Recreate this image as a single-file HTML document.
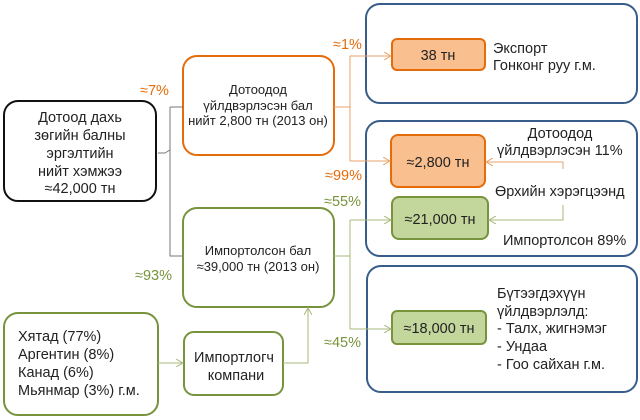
<!DOCTYPE html>
<html><head><meta charset="utf-8"><style>
html,body{margin:0;padding:0;background:#fff}
svg{display:block}
text{font-family:"Liberation Sans","DejaVu Sans",sans-serif;font-size:14.5px;fill:#222}
</style></head><body>
<svg width="640" height="420" viewBox="0 0 640 420" xmlns="http://www.w3.org/2000/svg">
<defs>
<marker id="ao" markerWidth="8" markerHeight="8" refX="7" refY="4" orient="auto" markerUnits="userSpaceOnUse"><path d="M0,0 L7,4 L0,8" fill="none" stroke="#e9a36a" stroke-width="1"/></marker>
<marker id="ag" markerWidth="8" markerHeight="8" refX="7" refY="4" orient="auto" markerUnits="userSpaceOnUse"><path d="M0,0 L7,4 L0,8" fill="none" stroke="#a9b97e" stroke-width="1"/></marker>
</defs>
<rect x="366" y="4" width="271" height="99" rx="14" fill="#fff" stroke="#385d8a" stroke-width="2"/>
<rect x="366" y="121" width="271" height="135" rx="14" fill="#fff" stroke="#385d8a" stroke-width="2"/>
<rect x="367" y="266" width="270" height="126" rx="14" fill="#fff" stroke="#385d8a" stroke-width="2"/>
<rect x="4" y="101" width="152" height="100" rx="14" fill="#fff" stroke="#111" stroke-width="2"/>
<rect x="183" y="56" width="151" height="99" rx="14" fill="#fff" stroke="#e46c0a" stroke-width="2"/>
<rect x="183" y="208" width="151" height="99" rx="14" fill="#fff" stroke="#77933c" stroke-width="2"/>
<rect x="4" y="313" width="154" height="102" rx="14" fill="#fff" stroke="#77933c" stroke-width="2"/>
<rect x="184" y="332" width="99" height="63" rx="10" fill="#fff" stroke="#77933c" stroke-width="2"/>
<rect x="392" y="39" width="93" height="31" rx="5" fill="#fabf8f" stroke="#e46c0a" stroke-width="2"/>
<rect x="391" y="135" width="94" height="52" rx="7" fill="#fabf8f" stroke="#e46c0a" stroke-width="2"/>
<rect x="392" y="197" width="96" height="42" rx="7" fill="#c3d69b" stroke="#77933c" stroke-width="2"/>
<rect x="392" y="311" width="94" height="33" rx="5" fill="#c3d69b" stroke="#77933c" stroke-width="2"/>
<path d="M158,153 H165 M170,107 H183 M170,107 V256 H183 M165,153 L170,150" fill="none" stroke="#777" stroke-width="1"/>
<path d="M334,107 H350 M350,56 V161" fill="none" stroke="#e9a36a" stroke-width="1"/>
<path d="M350,56 H391" fill="none" stroke="#e9a36a" stroke-width="1" marker-end="url(#ao)"/>
<path d="M350,161 H390" fill="none" stroke="#e9a36a" stroke-width="1" marker-end="url(#ao)"/>
<path d="M334,256 H350 M350,220 V329" fill="none" stroke="#a9b97e" stroke-width="1"/>
<path d="M350,220 H391" fill="none" stroke="#a9b97e" stroke-width="1" marker-end="url(#ag)"/>
<path d="M350,329 H391" fill="none" stroke="#a9b97e" stroke-width="1" marker-end="url(#ag)"/>
<path d="M158,363 H183" fill="none" stroke="#a9b97e" stroke-width="1" marker-end="url(#ag)"/>
<path d="M283,363 H308 V308" fill="none" stroke="#a9b97e" stroke-width="1" marker-end="url(#ag)"/>
<path d="M563,169 V162 H486" fill="none" stroke="#e9a36a" stroke-width="1" marker-end="url(#ao)"/>
<path d="M563,205 V220 H489" fill="none" stroke="#a9b97e" stroke-width="1" marker-end="url(#ag)"/>
<text x="333" y="49" style="fill:#e46c0a">≈1%</text>
<text x="140" y="95" style="fill:#e46c0a">≈7%</text>
<text x="325" y="180" style="fill:#e46c0a">≈99%</text>
<text x="324" y="206" style="fill:#77933c">≈55%</text>
<text x="135" y="280" style="fill:#77933c">≈93%</text>
<text x="324" y="347" style="fill:#77933c">≈45%</text>
<g text-anchor="middle">
<text x="80" y="122">Дотоод дахь</text>
<text x="80" y="140">зөгийн балны</text>
<text x="80" y="158">эргэлтийн</text>
<text x="80" y="176">нийт хэмжээ</text>
<text x="80" y="193">≈42,000 тн</text>
<text x="258" y="94" style="font-size:13px">Дотоодод</text>
<text x="258" y="110" style="font-size:13px">үйлдвэрлэсэн бал</text>
<text x="258" y="125" style="font-size:13px">нийт 2,800 тн (2013 он)</text>
<text x="258" y="255" style="font-size:13px">Импортолсон бал</text>
<text x="258" y="271" style="font-size:13px">≈39,000 тн (2013 он)</text>
<text x="234" y="362">Импортлогч</text>
<text x="236" y="380">компани</text>
<text x="438" y="60">38 тн</text>
<text x="438" y="167">≈2,800 тн</text>
<text x="440" y="224">≈21,000 тн</text>
<text x="439" y="333">≈18,000 тн</text>
<text x="560" y="138">Дотоодод</text>
</g>
<text x="18" y="341">Хятад (77%)</text>
<text x="18" y="359">Аргентин (8%)</text>
<text x="18" y="377">Канад (6%)</text>
<text x="18" y="395">Мьянмар (3%) г.м.</text>
<text x="493" y="53">Экспорт</text>
<text x="493" y="70">Гонконг руу г.м.</text>
<text x="497" y="155">үйлдвэрлэсэн 11%</text>
<text x="495" y="196">Өрхийн хэрэгцээнд</text>
<text x="503" y="245">Импортолсон 89%</text>
<text x="497" y="298">Бүтээгдэхүүн</text>
<text x="497" y="316">үйлдвэрлэлд:</text>
<text x="497" y="333">- Талх, жигнэмэг</text>
<text x="497" y="351">- Ундаа</text>
<text x="497" y="369">- Гоо сайхан г.м.</text>
</svg>
</body></html>
